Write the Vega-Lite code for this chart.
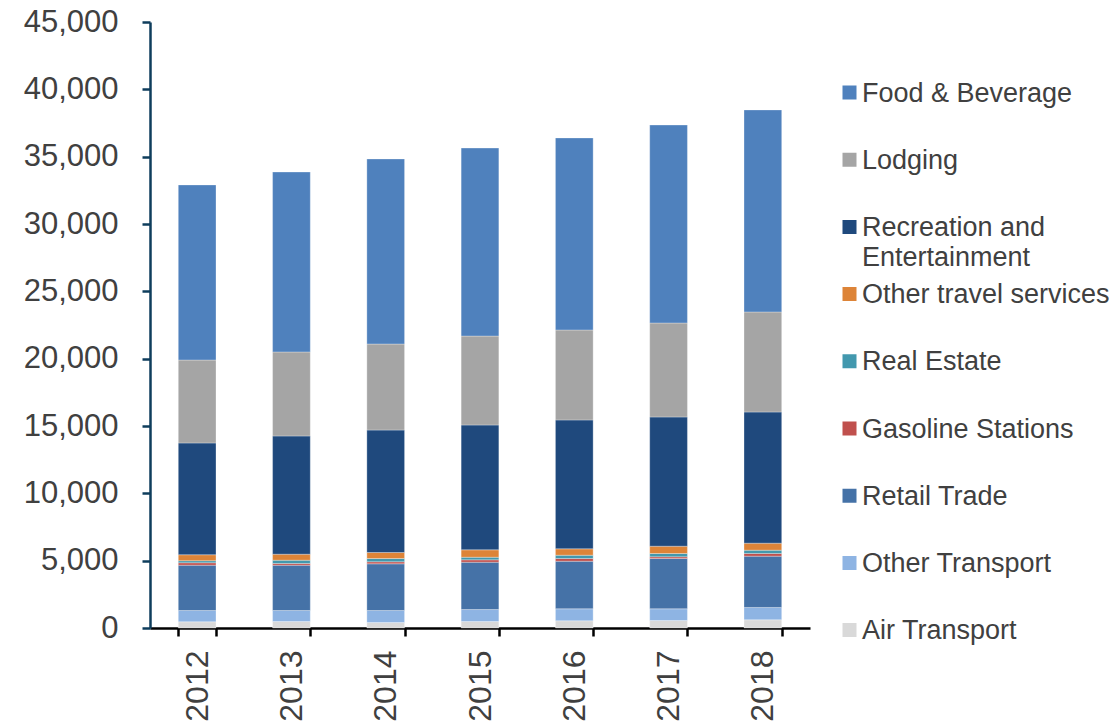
{
  "$schema": "https://vega.github.io/schema/vega-lite/v6.json",
  "width": 660,
  "height": 606,
  "autosize": "none",
  "padding": {"left": 150, "top": 22, "right": 306, "bottom": 100},
  "background": "white",
  "config": {
    "view": {"stroke": null},
    "font": "Liberation Sans",
    "axis": {"grid": false, "labelColor": "#404040", "labelFont": "Liberation Sans", "titleColor": "#404040"},
    "legend": {"labelFont": "Liberation Sans", "labelColor": "#404040"},
    "style": {"guide-label": {"dy": 9, "lineHeight": 30}}
  },
  "data": {
    "values": [
      {"year": "2012", "category": "Air Transport", "value": 460},
      {"year": "2012", "category": "Other Transport", "value": 840},
      {"year": "2012", "category": "Retail Trade", "value": 3365},
      {"year": "2012", "category": "Gasoline Stations", "value": 180},
      {"year": "2012", "category": "Real Estate", "value": 150},
      {"year": "2012", "category": "Other travel services", "value": 445},
      {"year": "2012", "category": "Recreation and Entertainment", "value": 8300},
      {"year": "2012", "category": "Lodging", "value": 6160},
      {"year": "2012", "category": "Food & Beverage", "value": 13000},
      {"year": "2013", "category": "Air Transport", "value": 480},
      {"year": "2013", "category": "Other Transport", "value": 820},
      {"year": "2013", "category": "Retail Trade", "value": 3365},
      {"year": "2013", "category": "Gasoline Stations", "value": 125},
      {"year": "2013", "category": "Real Estate", "value": 245},
      {"year": "2013", "category": "Other travel services", "value": 445},
      {"year": "2013", "category": "Recreation and Entertainment", "value": 8780},
      {"year": "2013", "category": "Lodging", "value": 6240},
      {"year": "2013", "category": "Food & Beverage", "value": 13360},
      {"year": "2014", "category": "Air Transport", "value": 410},
      {"year": "2014", "category": "Other Transport", "value": 890},
      {"year": "2014", "category": "Retail Trade", "value": 3465},
      {"year": "2014", "category": "Gasoline Stations", "value": 150},
      {"year": "2014", "category": "Real Estate", "value": 245},
      {"year": "2014", "category": "Other travel services", "value": 445},
      {"year": "2014", "category": "Recreation and Entertainment", "value": 9095},
      {"year": "2014", "category": "Lodging", "value": 6390},
      {"year": "2014", "category": "Food & Beverage", "value": 13740},
      {"year": "2015", "category": "Air Transport", "value": 480},
      {"year": "2015", "category": "Other Transport", "value": 890},
      {"year": "2015", "category": "Retail Trade", "value": 3515},
      {"year": "2015", "category": "Gasoline Stations", "value": 175},
      {"year": "2015", "category": "Real Estate", "value": 195},
      {"year": "2015", "category": "Other travel services", "value": 550},
      {"year": "2015", "category": "Recreation and Entertainment", "value": 9270},
      {"year": "2015", "category": "Lodging", "value": 6605},
      {"year": "2015", "category": "Food & Beverage", "value": 13960},
      {"year": "2016", "category": "Air Transport", "value": 535},
      {"year": "2016", "category": "Other Transport", "value": 890},
      {"year": "2016", "category": "Retail Trade", "value": 3535},
      {"year": "2016", "category": "Gasoline Stations", "value": 200},
      {"year": "2016", "category": "Real Estate", "value": 245},
      {"year": "2016", "category": "Other travel services", "value": 475},
      {"year": "2016", "category": "Recreation and Entertainment", "value": 9570},
      {"year": "2016", "category": "Lodging", "value": 6680},
      {"year": "2016", "category": "Food & Beverage", "value": 14260},
      {"year": "2017", "category": "Air Transport", "value": 555},
      {"year": "2017", "category": "Other Transport", "value": 870},
      {"year": "2017", "category": "Retail Trade", "value": 3735},
      {"year": "2017", "category": "Gasoline Stations", "value": 125},
      {"year": "2017", "category": "Real Estate", "value": 245},
      {"year": "2017", "category": "Other travel services", "value": 545},
      {"year": "2017", "category": "Recreation and Entertainment", "value": 9595},
      {"year": "2017", "category": "Lodging", "value": 6980},
      {"year": "2017", "category": "Food & Beverage", "value": 14700},
      {"year": "2018", "category": "Air Transport", "value": 610},
      {"year": "2018", "category": "Other Transport", "value": 915},
      {"year": "2018", "category": "Retail Trade", "value": 3810},
      {"year": "2018", "category": "Gasoline Stations", "value": 200},
      {"year": "2018", "category": "Real Estate", "value": 245},
      {"year": "2018", "category": "Other travel services", "value": 520},
      {"year": "2018", "category": "Recreation and Entertainment", "value": 9740},
      {"year": "2018", "category": "Lodging", "value": 7430},
      {"year": "2018", "category": "Food & Beverage", "value": 15000}
    ]
  },
  "transform": [
    {"calculate": "indexof(['Air Transport', 'Other Transport', 'Retail Trade', 'Gasoline Stations', 'Real Estate', 'Other travel services', 'Recreation and Entertainment', 'Lodging', 'Food & Beverage'], datum.category)", "as": "stackRank"}
  ],
  "mark": {"type": "bar", "stroke": "white", "strokeWidth": 0.6, "strokeOpacity": 0.5},
  "encoding": {
    "x": {
      "field": "year",
      "type": "ordinal",
      "title": null,
      "scale": {"paddingInner": 0.6, "paddingOuter": 0.3},
      "axis": {
        "labelAngle": 270,
        "labelAlign": "right",
        "labelBaseline": "middle",
        "labelFontSize": 32,
        "labelPadding": 14,
        "labelOffset": -9,
        "domainColor": "black",
        "domainWidth": 2.5,
        "tickColor": "black",
        "tickWidth": 2.5,
        "tickSize": 8,
        "tickBand": "extent"
      }
    },
    "y": {
      "field": "value",
      "type": "quantitative",
      "stack": "zero",
      "title": null,
      "scale": {"domain": [0, 45000], "nice": false},
      "axis": {
        "values": [0, 5000, 10000, 15000, 20000, 25000, 30000, 35000, 40000, 45000],
        "format": ",d",
        "labelFontSize": 31,
        "labelPadding": 24,
        "labelOffset": -9,
        "domainColor": "#0E3D5C",
        "domainWidth": 2.5,
        "tickColor": "#0E3D5C",
        "tickWidth": 2.5,
        "tickSize": 8
      }
    },
    "order": {"field": "stackRank", "type": "quantitative", "sort": "ascending"},
    "color": {
      "field": "category",
      "type": "nominal",
      "scale": {
        "domain": ["Food & Beverage", "Lodging", "Recreation and Entertainment", "Other travel services", "Real Estate", "Gasoline Stations", "Retail Trade", "Other Transport", "Air Transport"],
        "range": ["#4F81BD", "#A5A5A5", "#1F497D", "#DD8438", "#4298AE", "#C0504D", "#4572A7", "#8EB4E3", "#D9D9D9"]
      },
      "legend": {
        "title": null,
        "orient": "none",
        "legendX": 686,
        "legendY": 57,
        "padding": 0,
        "symbolType": "square",
        "symbolSize": 196,
        "symbolStrokeWidth": 0,
        "labelFontSize": 27,
        "labelOffset": -1,
        "labelLimit": 400,
        "labelBaseline": "alphabetic",
        "rowPadding": 9.2,
        "clipHeight": 27,
        "labelExpr": "datum.label == 'Recreation and Entertainment' ? ['Recreation and', 'Entertainment'] : [datum.label, '']"
      }
    }
  }
}
